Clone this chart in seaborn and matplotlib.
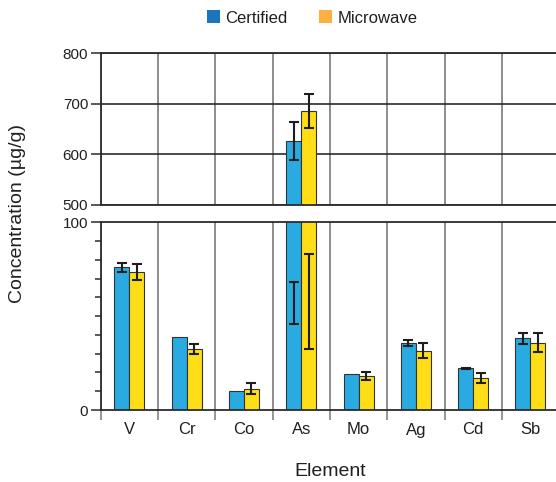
import numpy as np
import pandas as pd
import matplotlib
matplotlib.use("Agg")
import matplotlib.pyplot as plt
from matplotlib.patches import Patch
from matplotlib.ticker import FixedLocator, MultipleLocator
import seaborn as sns

# Element concentrations (µg/g) by method
elements = ["V", "Cr", "Co", "As", "Mo", "Ag", "Cd", "Sb"]
certified = [76.0, 39.1, 10.0, 627.0, 19.2, 35.7, 22.2, 38.2]
certified_err = [2.5, np.nan, np.nan, 38.0, np.nan, 1.8, 0.1, 3.0]
microwave = [73.7, 32.5, 11.4, 686.5, 18.3, 31.6, 17.0, 35.9]
microwave_err = [4.3, 2.7, 2.8, 33.5, 2.2, 4.1, 2.6, 5.2]

# As error bars as they appear in the lower (0-100) panel
as_lower_center = [56.9, 58.0]
as_lower_err = [11.1, 25.3]

methods = ["Certified", "Microwave"]
bar_colors = ["#29abe2", "#ffde17"]
legend_colors = ["#1b75bb", "#fbb040"]
text_color = "#231f20"

sns.set_theme(style="white")
plt.rcParams["font.family"] = ["Liberation Sans", "DejaVu Sans"]
plt.rcParams["text.color"] = text_color
plt.rcParams["axes.labelcolor"] = text_color
plt.rcParams["xtick.color"] = text_color
plt.rcParams["ytick.color"] = text_color

df = pd.DataFrame({
    "Element": elements * 2,
    "Concentration": certified + microwave,
    "Method": [methods[0]] * len(elements) + [methods[1]] * len(elements),
})

W, H = 556, 482
fig = plt.figure(figsize=(W / 100, H / 100), dpi=100)

left = 100.7 / W
cat_px = 57.3
ax_w_px = W - 100.7
xmax = -0.5 + ax_w_px / cat_px

ax_top = fig.add_axes([left, 1 - 205 / H, ax_w_px / W, (205 - 53.3) / H])
ax_bot = fig.add_axes([left, 1 - 410 / H, ax_w_px / W, (410 - 222.3) / H])

bar_w = 0.524
grid_grey = "#858585"
dark = "#2b2b2b"

for ax in (ax_top, ax_bot):
    sns.barplot(data=df, x="Element", y="Concentration", hue="Method",
                order=elements, hue_order=methods, palette=bar_colors,
                saturation=1, width=bar_w, dodge=True, errorbar=None,
                legend=False, edgecolor="#333333", linewidth=0.8, ax=ax,
                zorder=2)
    xs = np.arange(len(elements))
    off = bar_w / 4
    err_kw = dict(fmt="none", ecolor="#1e1e1e", elinewidth=1.5,
                  capsize=3.8, capthick=1.5, zorder=3)
    ax.errorbar(xs - off, certified, yerr=certified_err, **err_kw)
    ax.errorbar(xs + off, microwave, yerr=microwave_err, **err_kw)

    ax.set_xlim(-0.5, xmax)
    ax.set_axisbelow(True)
    ax.xaxis.set_minor_locator(FixedLocator(np.arange(-0.5, len(elements), 1.0)))
    ax.xaxis.grid(True, which="minor", color=grid_grey, lw=1.3)
    ax.set_xlabel("")
    ax.set_ylabel("")
    for s in ("left", "top", "bottom"):
        ax.spines[s].set_color(dark)
        ax.spines[s].set_linewidth(1.3)
    ax.spines["right"].set_visible(False)
    ax.tick_params(axis="y", which="major", direction="out", length=7,
                   width=1.1, color=dark, labelsize=11, pad=2, left=True)

# Upper panel: 500-800
ax_top.set_ylim(500, 800)
ax_top.set_yticks([500, 600, 700, 800])
ax_top.yaxis.grid(True, which="major", color=dark, lw=1.2)
ax_top.tick_params(axis="x", which="both", bottom=False, labelbottom=False)

# Lower panel: 0-100
ax_bot.set_ylim(0, 100)
ax_bot.set_yticks([0, 100])
ax_bot.yaxis.set_minor_locator(MultipleLocator(10))
ax_bot.tick_params(axis="y", which="minor", direction="out", length=4,
                   width=1.1, color=dark, left=True)
ax_bot.tick_params(axis="x", which="major", length=0, labelsize=12, pad=9)
ax_bot.tick_params(axis="x", which="minor", direction="out", length=7,
                   width=1.2, color=grid_grey, bottom=True)
ax_bot.errorbar([3 - bar_w / 4, 3 + bar_w / 4], as_lower_center,
                yerr=as_lower_err, fmt="none", ecolor="#1e1e1e",
                elinewidth=1.5, capsize=3.8, capthick=1.5, zorder=3)

fig.text(17.5 / W, 1 - 213.5 / H, "Concentration (µg/g)", rotation=90,
         ha="center", va="center", fontsize=14, color=text_color)
fig.text(330 / W, 1 - 471 / H, "Element",
         ha="center", va="center", fontsize=14, color=text_color)

handles = [Patch(facecolor=c, edgecolor="none", label=m)
           for c, m in zip(legend_colors, methods)]
fig.legend(handles=handles, loc="center", bbox_to_anchor=(312 / W, 1 - 18 / H),
           ncol=2, frameon=False, fontsize=12, handlelength=0.8,
           handleheight=0.8, handletextpad=0.3, columnspacing=1.9)

fig.savefig("out.png", dpi=100)
